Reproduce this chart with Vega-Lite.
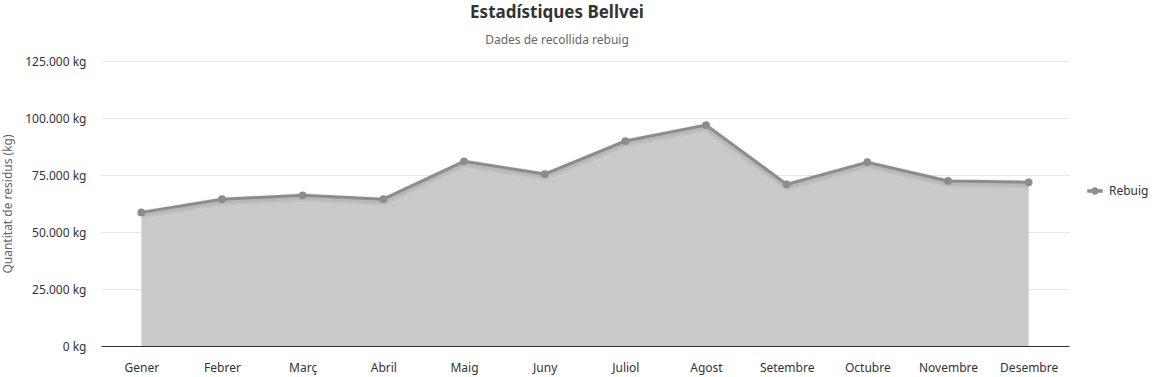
{
  "$schema": "https://vega.github.io/schema/vega-lite/v6.json",
  "autosize": "none",
  "width": 968,
  "height": 285,
  "padding": {"left": 101, "top": 61, "right": 88, "bottom": 31},
  "background": "white",
  "title": {
    "text": "Estadístiques Bellvei",
    "subtitle": "Dades de recollida rebuig",
    "anchor": "middle",
    "dx": -28,
    "offset": 8,
    "font": "Noto Sans",
    "fontSize": 17,
    "fontWeight": "bold",
    "color": "#333333",
    "subtitleFont": "Noto Sans",
    "subtitleFontSize": 12,
    "subtitleColor": "#666666",
    "subtitlePadding": 13
  },
  "data": {
    "values": [
      {"mes": "Gener", "kg": 58600, "serie": "Rebuig"},
      {"mes": "Febrer", "kg": 64400, "serie": "Rebuig"},
      {"mes": "Març", "kg": 66100, "serie": "Rebuig"},
      {"mes": "Abril", "kg": 64400, "serie": "Rebuig"},
      {"mes": "Maig", "kg": 81000, "serie": "Rebuig"},
      {"mes": "Juny", "kg": 75400, "serie": "Rebuig"},
      {"mes": "Juliol", "kg": 89900, "serie": "Rebuig"},
      {"mes": "Agost", "kg": 96900, "serie": "Rebuig"},
      {"mes": "Setembre", "kg": 70900, "serie": "Rebuig"},
      {"mes": "Octubre", "kg": 80600, "serie": "Rebuig"},
      {"mes": "Novembre", "kg": 72400, "serie": "Rebuig"},
      {"mes": "Desembre", "kg": 71800, "serie": "Rebuig"}
    ]
  },
  "encoding": {
    "x": {
      "field": "mes",
      "type": "ordinal",
      "sort": null,
      "scale": {"type": "point", "padding": 0.5},
      "axis": {
        "title": null,
        "labelAngle": 0,
        "labelFont": "Noto Sans",
        "labelFontSize": 12,
        "labelColor": "#333333",
        "labelPadding": 16,
        "ticks": false,
        "domainColor": "#333333",
        "domainWidth": 1,
        "grid": false
      }
    },
    "y": {
      "field": "kg",
      "type": "quantitative",
      "scale": {"domain": [0, 125000], "nice": false},
      "axis": {
        "title": "Quantitat de residus (kg)",
        "titleFont": "Noto Sans",
        "titleFontSize": 12,
        "titleFontWeight": "normal",
        "titleColor": "#666666",
        "titlePadding": 10,
        "values": [0, 25000, 50000, 75000, 100000, 125000],
        "labelExpr": "replace(format(datum.value, ',d'), regexp(',', 'g'), '.') + ' kg'",
        "labelFont": "Noto Sans",
        "labelFontSize": 12,
        "labelColor": "#333333",
        "labelPadding": 15,
        "ticks": false,
        "domain": false,
        "gridColor": "#e6e6e6",
        "gridWidth": 1
      }
    }
  },
  "layer": [
    {
      "mark": {"type": "area", "color": "#cacaca", "opacity": 1}
    },
    {
      "mark": {"type": "line", "color": "#000000", "strokeWidth": 9, "opacity": 0.035, "yOffset": 2}
    },
    {
      "mark": {"type": "line", "color": "#000000", "strokeWidth": 5, "opacity": 0.05, "yOffset": 2}
    },
    {
      "mark": {"type": "line", "strokeWidth": 3},
      "encoding": {
        "color": {
          "field": "serie",
          "type": "nominal",
          "scale": {"range": ["#8c8c8c"]},
          "legend": {
            "title": null,
            "orient": "none",
            "legendX": 986,
            "legendY": 122,
            "symbolType": "M-1,-0.2H1V0.2H-1Z M0,-0.47A0.47,0.47 0 1,1 0,0.47A0.47,0.47 0 1,1 0,-0.47Z",
            "symbolSize": 225,
            "symbolFillColor": "#8c8c8c",
            "symbolStrokeColor": "#8c8c8c",
            "symbolStrokeWidth": 0.5,
            "labelFont": "Noto Sans",
            "labelFontSize": 12,
            "labelColor": "#333333",
            "labelOffset": 6
          }
        }
      }
    },
    {
      "mark": {"type": "point", "filled": true, "size": 60, "color": "#8c8c8c", "opacity": 1}
    }
  ],
  "config": {
    "view": {"stroke": null}
  }
}
